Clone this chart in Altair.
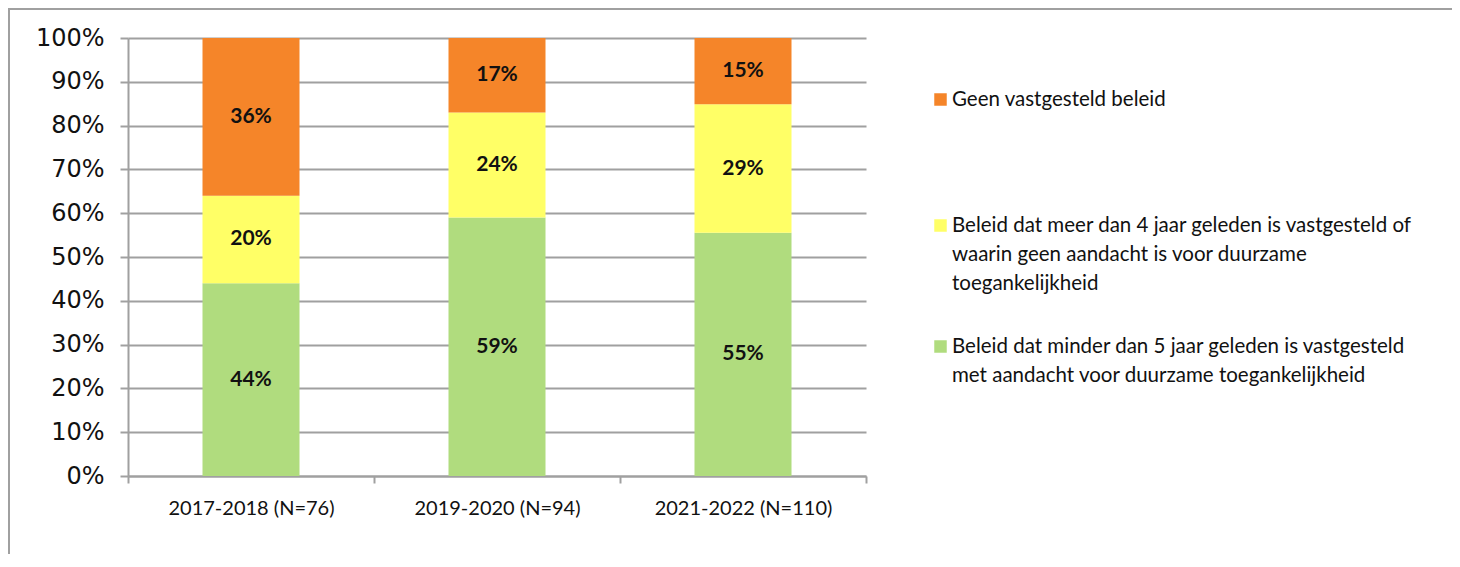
import altair as alt
import pandas as pd

categories = ["2017-2018 (N=76)", "2019-2020 (N=94)", "2021-2022 (N=110)"]
series = [
    "Beleid dat minder dan 5 jaar geleden is vastgesteld met aandacht voor duurzame toegankelijkheid",
    "Beleid dat meer dan 4 jaar geleden is vastgesteld of waarin geen aandacht is voor duurzame toegankelijkheid",
    "Geen vastgesteld beleid",
]
green_values = [44, 59, 55]
yellow_values = [20, 24, 29]
orange_values = [36, 17, 15]
colors = ["#B0DC7E", "#FFFF66", "#F58529"]

legend_lines = [
    ["Geen vastgesteld beleid"],
    ["Beleid dat meer dan 4 jaar geleden is vastgesteld of",
     "waarin geen aandacht is voor duurzame",
     "toegankelijkheid"],
    ["Beleid dat minder dan 5 jaar geleden is vastgesteld",
     "met aandacht voor duurzame toegankelijkheid"],
]
legend_colors = [colors[2], colors[1], colors[0]]

rows = []
for i, cat in enumerate(categories):
    for order, (s, vals) in enumerate(zip(series, [green_values, yellow_values, orange_values])):
        rows.append({"cat": cat, "series": s, "order": order, "value": vals[i]})
df = pd.DataFrame(rows)

W, H = 738, 438
GRID = "#A0A0A0"

base = alt.Chart(df).transform_stack(
    stack="value", groupby=["cat"],
    sort=[alt.SortField("order", order="ascending")],
    as_=["y0", "y1"], offset="normalize",
).transform_calculate(
    mid="(datum.y0 + datum.y1) / 2",
    label="datum.value + '%'",
)

xscale = alt.Scale(domain=categories, paddingInner=0, paddingOuter=0)
yscale = alt.Scale(domain=[0, 1], nice=False, zero=True)

bars = base.mark_bar(size=97).encode(
    x=alt.X("cat:N", sort=categories, scale=xscale,
            axis=alt.Axis(title=None, labelFont="Lato", labelFontSize=20, labelColor="#111",
                          labelAngle=0, tickBand="extent", tickSize=7, tickColor=GRID,
                          tickWidth=2, domainColor=GRID, domainWidth=2, labelPadding=15,
                          grid=False)),
    y=alt.Y("y0:Q", scale=yscale,
            axis=alt.Axis(title=None, values=[i / 10 for i in range(11)], format=".0%",
                          labelFont="DejaVu Sans", labelFontSize=24, labelColor="#111",
                          tickSize=8, tickColor=GRID, tickWidth=2, domainColor=GRID,
                          domainWidth=2, gridColor=GRID, gridWidth=2, labelPadding=16)),
    y2="y1:Q",
    color=alt.Color("series:N", scale=alt.Scale(domain=series, range=colors), legend=None),
)

labels = base.mark_text(font="Lato", fontWeight="bold", fontSize=21, baseline="middle",
                        align="center", color="#111").encode(
    x=alt.X("cat:N", sort=categories, scale=xscale, axis=None),
    y=alt.Y("mid:Q", scale=yscale, axis=None),
    text="label:N",
)

# legend (manual)
leg_baselines = [68, 194, 315]
leg_df = pd.DataFrame({
    "txt": ["\n".join(l) for l in legend_lines],
    "col": legend_colors,
    "ty": leg_baselines,
    "sy": [b - 6.5 for b in leg_baselines],
    "tx": [824] * 3,
    "sx": [812.5] * 3,
})

leg_sq = alt.Chart(leg_df).mark_square(size=156, opacity=1).encode(
    x=alt.X("sx:Q", scale=None, axis=None),
    y=alt.Y("sy:Q", scale=None, axis=None),
    color=alt.Color("col:N", scale=None, legend=None),
)
leg_txt = alt.Chart(leg_df).mark_text(font="Lato", fontSize=20.5, align="left",
                                      baseline="alphabetic", lineBreak="\n",
                                      lineHeight=29, color="#111").encode(
    x=alt.X("tx:Q", scale=None, axis=None),
    y=alt.Y("ty:Q", scale=None, axis=None),
    text="txt:N",
)

border = alt.Chart(pd.DataFrame({"a": [0]})).mark_rect(
    fillOpacity=0, stroke=GRID, strokeWidth=2
).encode(
    x=alt.value(-119), x2=alt.value(1325), y=alt.value(-29), y2=alt.value(800)
)

chart = alt.layer(border, bars, labels, leg_sq, leg_txt).resolve_scale(
    x="independent", y="independent"
).properties(
    width=W, height=H,
    padding={"left": 120, "top": 30, "right": 586, "bottom": 78},
    autosize=alt.AutoSizeParams(type="none"),
).configure_view(stroke=None)

chart.save("out.html", embed_options={"renderer": "svg", "actions": False})
